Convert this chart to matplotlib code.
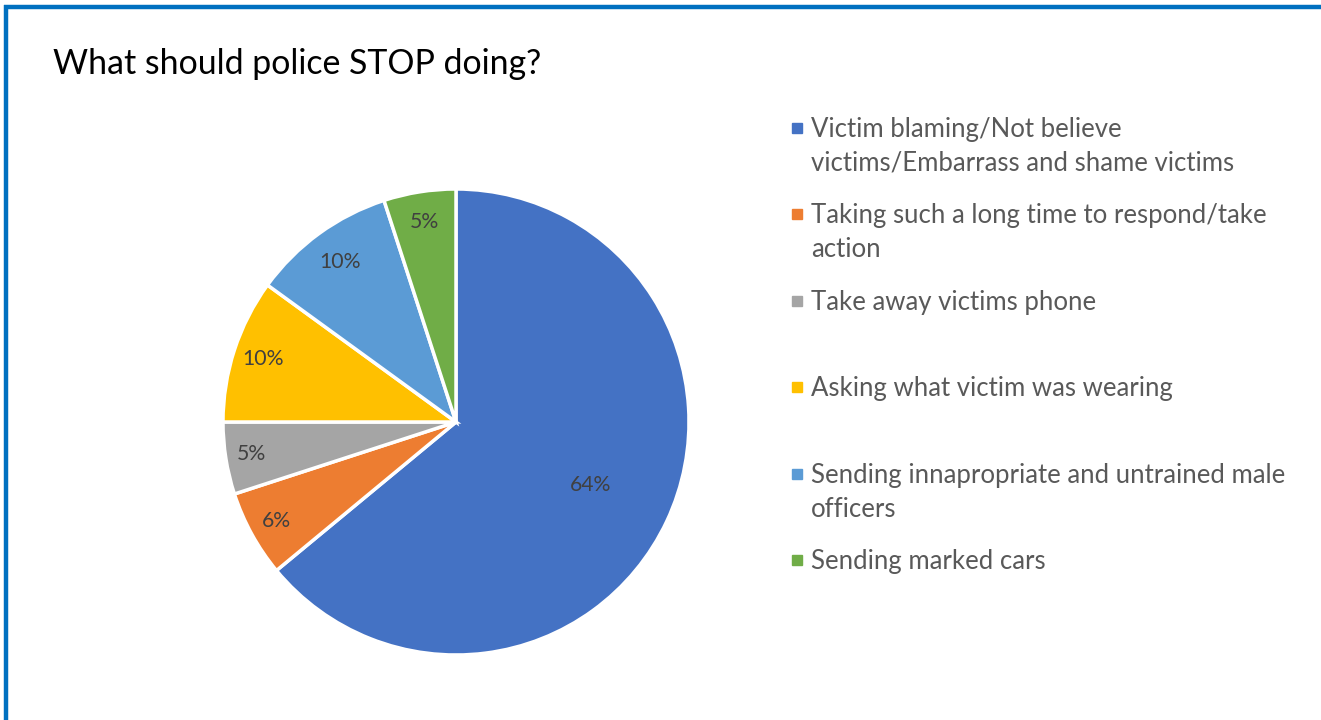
import numpy as np
import matplotlib
matplotlib.use("Agg")
import matplotlib.pyplot as plt
from matplotlib.patches import Rectangle
from matplotlib.lines import Line2D

plt.rcParams['font.family'] = ['Lato', 'DejaVu Sans']

# survey answers, clockwise from 12 o'clock
answers = ['Victim blaming/Not believe\nvictims/Embarrass and shame victims',
           'Taking such a long time to respond/take\naction',
           'Take away victims phone',
           'Asking what victim was wearing',
           'Sending innapropriate and untrained male\nofficers',
           'Sending marked cars']
shares = [64, 6, 5, 10, 10, 5]
colors = ['#4472C4', '#ED7D31', '#A5A5A5', '#FFC000', '#5B9BD5', '#70AD47']
label_dist = [0.64, 0.88, 0.89, 0.87, 0.85, 0.87]

W, H = 1321, 720
fig = plt.figure(figsize=(W / 100, H / 100), dpi=100)

# frame lines at the top and left edge
fig.add_artist(Line2D([4 / W, 1], [1 - 7 / H, 1 - 7 / H], color='#0070C0', lw=3.2,
                      transform=fig.transFigure, solid_capstyle='butt'))
fig.add_artist(Line2D([6 / W, 6 / W], [0, 1 - 5 / H], color='#0070C0', lw=3.2,
                      transform=fig.transFigure, solid_capstyle='butt'))

fig.text(53 / W, 1 - 64 / H, 'What should police STOP doing?', fontsize=24.4,
         color='black', va='center', ha='left')

cx, cy, r = 456, 422, 233
ax = fig.add_axes([(cx - r) / W, (H - cy - r) / H, 2 * r / W, 2 * r / H])
wedges, _ = ax.pie(shares, colors=colors, startangle=90, counterclock=False,
                   wedgeprops=dict(edgecolor='white', linewidth=2.5))
ax.set_xlim(-1, 1)
ax.set_ylim(-1, 1)
ax.set_aspect('equal')
ax.axis('off')

for w, v, d in zip(wedges, shares, label_dist):
    mid = np.deg2rad((w.theta1 + w.theta2) / 2)
    ax.text(d * np.cos(mid), d * np.sin(mid), f'{v}%', ha='center', va='center',
            fontsize=15.3, color='#404040')

# legend: squares evenly spaced, each text line hung from its square
lx, ly0, step, line_h = 797, 128, 86.4, 34
for i, (lab, c) in enumerate(zip(answers, colors)):
    y = ly0 + i * step
    fig.add_artist(Rectangle(((lx - 5) / W, 1 - (y + 5) / H), 10 / W, 10 / H,
                             transform=fig.transFigure, color=c))
    for k, part in enumerate(lab.split('\n')):
        fig.text(811 / W, 1 - (y + 9 + k * line_h) / H, part, fontsize=18.5,
                 color='#595959', ha='left', va='baseline')

fig.savefig('out.png', dpi=100)
